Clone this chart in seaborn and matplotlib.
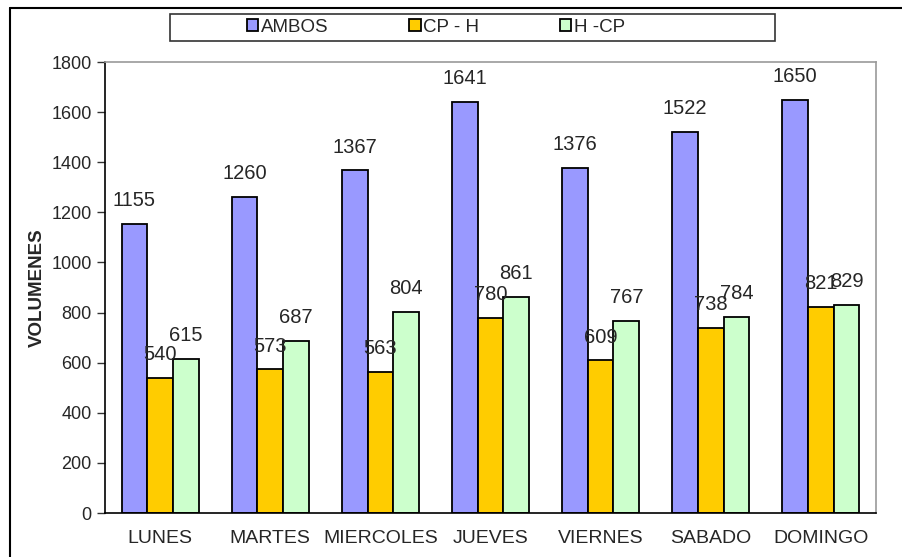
import pandas as pd
import matplotlib.pyplot as plt
import seaborn as sns
from matplotlib.lines import Line2D
from matplotlib.patches import Rectangle

# datos
dias = ["LUNES", "MARTES", "MIERCOLES", "JUEVES", "VIERNES", "SABADO", "DOMINGO"]
series = ["AMBOS", "CP - H", "H -CP"]
ambos = [1155, 1260, 1367, 1641, 1376, 1522, 1650]
cp_h = [540, 573, 563, 780, 609, 738, 821]
h_cp = [615, 687, 804, 861, 767, 784, 829]
colores = ["#9999FF", "#FFCC00", "#CCFFCC"]

df = pd.DataFrame({
    "dia": dias * 3,
    "serie": [series[0]] * 7 + [series[1]] * 7 + [series[2]] * 7,
    "vol": ambos + cp_h + h_cp,
})

sns.set_style("white")
plt.rcParams["font.family"] = ["Liberation Sans", "DejaVu Sans"]

fig = plt.figure(figsize=(9.03, 5.57), dpi=100)
ax = fig.add_axes([105 / 903, 1 - 513 / 557, (876 - 105) / 903, (513 - 62) / 557])

sns.barplot(data=df, x="dia", y="vol", hue="serie", palette=colores, saturation=1,
            edgecolor="black", linewidth=1.3, width=0.7, ax=ax)

for cont in ax.containers:
    ax.bar_label(cont, padding=10, fontsize=14.5)

handles, labels = ax.get_legend_handles_labels()
ax.get_legend().remove()

ax.set_ylim(0, 1800)
ax.set_yticks(range(0, 1801, 200))
ax.set_xlim(-0.5, 6.5)
ax.set_xlabel("")
ax.set_ylabel("VOLUMENES", fontsize=13.5, fontweight="bold", labelpad=4)

ax.set_xticks([i - 0.5 for i in range(8)], minor=True)
ax.tick_params(axis="x", which="major", length=0, labelsize=14, pad=12)
ax.tick_params(axis="x", which="minor", length=6, direction="out", width=1, color="#333333")
ax.tick_params(axis="y", length=6, direction="out", width=1, labelsize=13, color="#333333", left=True)

for s in ["left", "bottom"]:
    ax.spines[s].set_color("black")
    ax.spines[s].set_linewidth(1.2)
for s in ["top", "right"]:
    ax.spines[s].set_color("#999999")
    ax.spines[s].set_linewidth(1.2)

# leyenda
fig.add_artist(Rectangle((170 / 903, 1 - 41 / 557), (775 - 170) / 903, 27 / 557,
                         transform=fig.transFigure, fill=False, edgecolor="#333333", lw=1.2))
fig.legend(handles, labels, loc="center left", bbox_to_anchor=(247 / 903, 1 - 27.5 / 557),
           ncol=3, frameon=False, fontsize=13.5, handlelength=0.6, handleheight=0.6,
           handletextpad=0.15, columnspacing=4.3, borderpad=0, borderaxespad=0)

# borde exterior
fig.add_artist(Line2D([10 / 903, 1], [1 - 8 / 557] * 2, transform=fig.transFigure, color="black", lw=1.5))
fig.add_artist(Line2D([10 / 903] * 2, [0, 1 - 8 / 557], transform=fig.transFigure, color="black", lw=1.5))

fig.savefig("out.png", dpi=100)
